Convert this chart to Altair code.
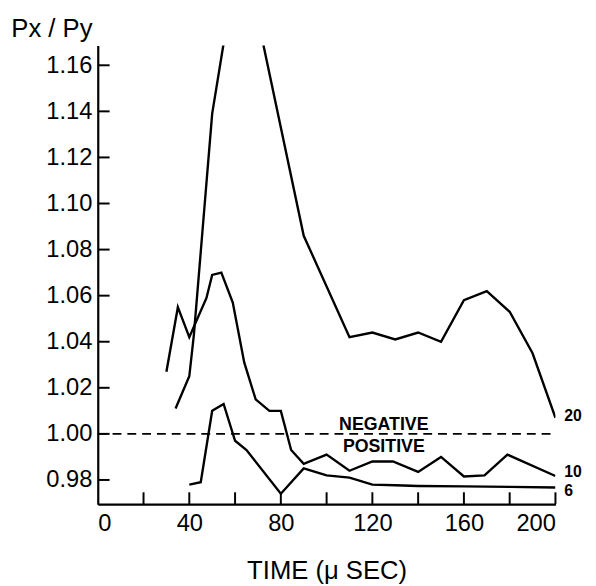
import altair as alt
import pandas as pd

# ---- data ----
# curve labelled "20"
t20 = [34, 40, 42, 50, 60, 70, 90, 110, 120, 130, 140, 150, 160, 170, 180, 190, 200]
r20 = [1.011, 1.025, 1.043, 1.139, 1.200, 1.180, 1.086, 1.042, 1.044, 1.041, 1.044,
       1.040, 1.058, 1.062, 1.053, 1.035, 1.007]
# curve labelled "10"
t10 = [30, 35, 40, 47.5, 50, 54, 59, 64, 69, 75, 80, 84.5, 90, 100, 110, 120, 129,
       140, 150, 160, 169, 179, 200]
r10 = [1.027, 1.055, 1.042, 1.059, 1.069, 1.070, 1.057, 1.031, 1.015, 1.010, 1.010,
       0.993, 0.987, 0.991, 0.984, 0.988, 0.988, 0.9835, 0.990, 0.9815, 0.982, 0.991,
       0.9817]
# curve labelled "6"
t6 = [40, 45, 50, 55, 60, 65, 80, 90, 100, 110, 120, 130, 140, 160, 180, 200]
r6 = [0.978, 0.979, 1.010, 1.013, 0.997, 0.993, 0.974, 0.985, 0.982, 0.981, 0.978,
      0.9777, 0.9774, 0.9772, 0.977, 0.9767]

curve_names = ["20", "10", "6"]
curve_label_y = [1.0076, 0.9833, 0.9752]

x_label_values = [0, 40, 80, 120, 160, 200]
x_tick_values = [20, 40, 60, 80, 100, 120, 140, 160, 180, 200]
y_tick_values = [0.98, 1.00, 1.02, 1.04, 1.06, 1.08, 1.10, 1.12, 1.14, 1.16]

ref_y = 1.00
ref_x = [0, 198]
sign_text = ["NEGATIVE", "POSITIVE"]
sign_x = [125, 125]
sign_y = [1.0039, 0.9942]

X_TITLE = "TIME (μ SEC)"
Y_TITLE = "Px / Py"
FONT = "Liberation Sans"
W, H = 464, 465

# ---- tables ----
rows = []
for name, ts, rs in zip(curve_names, [t20, t10, t6], [r20, r10, r6]):
    for t, r in zip(ts, rs):
        rows.append({"series": name, "t": t, "r": r})
lines_df = pd.DataFrame(rows)
labels_df = pd.DataFrame({"series": curve_names, "t": [200] * 3, "r": curve_label_y})
xt_df = pd.DataFrame({"t": x_tick_values})
yt_df = pd.DataFrame({"r": y_tick_values})
sign_df = pd.DataFrame({"txt": sign_text, "t": sign_x, "r": sign_y})

xscale = alt.Scale(domain=[0, 200], nice=False, zero=False)
yscale = alt.Scale(domain=[0.9695, 1.1686], nice=False, zero=False)


def X():
    return alt.X("t:Q", scale=xscale, title=X_TITLE)


def Y():
    return alt.Y("r:Q", scale=yscale, title=Y_TITLE)


lines = alt.Chart(lines_df).mark_line(clip=True, color="black", strokeWidth=2.4,
                                      strokeJoin="miter").encode(
    x=alt.X("t:Q", scale=xscale, title=X_TITLE,
            axis=alt.Axis(values=x_label_values, format="d",
                          ticks=False, tickSize=0, labelPadding=8,
                          titleY=75, titleBaseline="alphabetic")),
    y=alt.Y("r:Q", scale=yscale, title=Y_TITLE,
            axis=alt.Axis(values=y_tick_values, format=".2f",
                          ticks=False, tickSize=0, labelPadding=6,
                          titleAngle=0, titleX=-47, titleY=-9, titleAlign="center",
                          titleBaseline="alphabetic")),
    detail="series:N",
)

xticks = alt.Chart(xt_df).mark_rule(color="black", strokeWidth=2).encode(
    x=X(), y=alt.value(H - 12), y2=alt.value(H),
)
yticks = alt.Chart(yt_df).mark_rule(color="black", strokeWidth=2).encode(
    y=Y(), x=alt.value(0), x2=alt.value(12),
)

ref = alt.Chart(pd.DataFrame({"a": [0]})).mark_rule(
    color="black", strokeWidth=2, strokeDash=[9, 6]).encode(
    x=alt.datum(ref_x[0]), x2=alt.datum(ref_x[1]), y=alt.datum(ref_y),
)

signs = alt.Chart(sign_df).mark_text(font=FONT, fontSize=18, fontWeight="bold",
                                     color="black", baseline="middle").encode(
    x=X(), y=Y(), text="txt:N",
)

clabels = alt.Chart(labels_df).mark_text(font=FONT, fontSize=16, fontWeight="bold",
                                         color="black", align="left", baseline="middle",
                                         dx=9).encode(
    x=X(), y=Y(), text="series:N",
)

chart = alt.layer(lines, xticks, yticks, ref, signs, clabels).properties(
    width=W, height=H,
    padding={"left": 91, "top": 34, "right": 33, "bottom": 79},
    autosize=alt.AutoSizeParams(type="none"),
).configure_view(stroke=None).configure_axis(
    grid=False, domainColor="black", domainWidth=2.2,
    labelFont=FONT, labelFontSize=24, labelColor="black",
    titleFont=FONT, titleFontSize=26, titleColor="black", titleFontWeight="normal",
)

chart.save("out.html", embed_options={"renderer": "svg", "actions": False})
